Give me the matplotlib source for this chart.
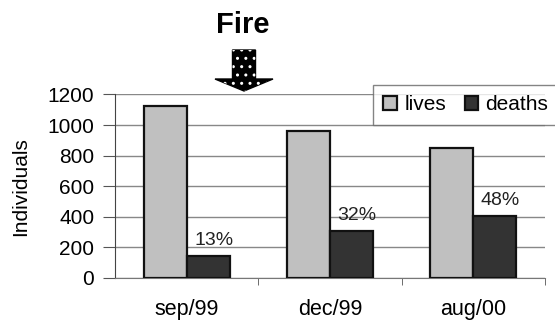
import numpy as np
import matplotlib
matplotlib.use('agg')
import matplotlib.pyplot as plt  # noqa
from matplotlib.patches import FancyArrow  # noqa

plt.rcParams['font.family'] = ['Liberation Sans', 'DejaVu Sans']

# data
periods = ['sep/99', 'dec/99', 'aug/00']
lives = [1125, 960, 848]
deaths = [145, 308, 407]
death_pct = ['13%', '32%', '48%']

fig = plt.figure(figsize=(5.55, 3.2), dpi=100)
ax = fig.add_axes([0.2072, 0.1322, 0.7748, 0.5725])

x = np.arange(len(periods))
w = 0.3
ax.bar(x - w / 2, lives, w, color='#c0c0c0', edgecolor='#111111',
       linewidth=1.6, label='lives', zorder=3)
ax.bar(x + w / 2, deaths, w, color='#333333', edgecolor='#111111',
       linewidth=1.6, label='deaths', zorder=3)

for xi, d, p in zip(x, deaths, death_pct):
    ax.text(xi + w / 2 + 0.04, d + 45, p, ha='center', va='bottom',
            fontsize=14, color='#222222', zorder=4)

ax.set_xlim(-0.5, 2.5)
ax.set_ylim(0, 1200)
ax.set_yticks(np.arange(0, 1201, 200))
ax.set_xticks(x)
ax.set_xticklabels(periods, fontsize=15.5)
ax.set_xticks([0.5, 1.5, 2.5], minor=True)
ax.tick_params(axis='x', which='major', length=0, pad=15)
ax.tick_params(axis='x', which='minor', length=5, direction='out',
               color='#555555')
ax.tick_params(axis='y', length=9, direction='out', color='#555555',
               labelsize=15, pad=6)
ax.yaxis.grid(True, color='#888888', linewidth=1.0, zorder=0)
ax.set_axisbelow(True)
for s in ['top', 'right']:
    ax.spines[s].set_visible(False)
ax.spines['left'].set_color('#444444')
ax.spines['bottom'].set_color('#777777')
ax.set_ylabel('Individuals', fontsize=15, labelpad=12)

leg = ax.legend(loc='upper left', bbox_to_anchor=(373 / 555, 1 - 85 / 320),
                bbox_transform=fig.transFigure, ncol=2,
                fontsize=15, frameon=True, fancybox=False,
                handlelength=0.65, handleheight=0.65, handletextpad=0.35,
                columnspacing=0.9, borderpad=0.5, borderaxespad=0)
leg.get_frame().set_edgecolor('#666666')
leg.get_frame().set_linewidth(1.0)

# "Fire" marker with dotted arrow
fig.text(243 / 555, 1 - 25 / 320, 'Fire', ha='center', va='center',
         fontsize=21, fontweight='bold')
arrow_kw = dict(width=23 / 555, head_width=58 / 555, head_length=12 / 320,
                length_includes_head=True, transform=fig.transFigure)
a1 = FancyArrow(244 / 555, 1 - 50 / 320, 0, -41 / 320, color='black',
                **arrow_kw)
a2 = FancyArrow(244 / 555, 1 - 50 / 320, 0, -41 / 320, facecolor='none',
                edgecolor='white', linewidth=0, hatch='..', **arrow_kw)
fig.patches.extend([a1, a2])

fig.savefig('out.png', dpi=100)
